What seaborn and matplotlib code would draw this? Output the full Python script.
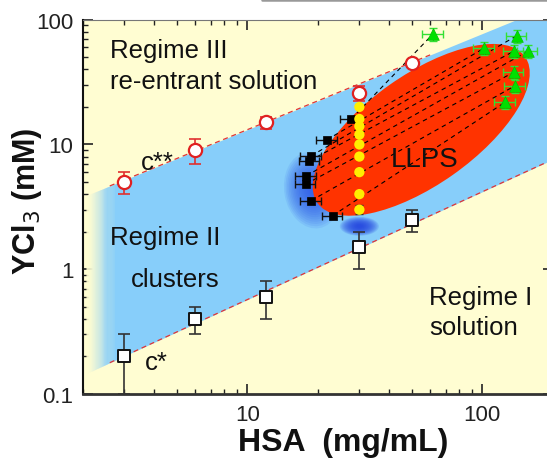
import numpy as np
import pandas as pd
import matplotlib
matplotlib.use("Agg")
import matplotlib.pyplot as plt
import seaborn as sns
from matplotlib.patches import Ellipse
from matplotlib.transforms import IdentityTransform
from matplotlib.lines import Line2D
from matplotlib.ticker import LogLocator, NullFormatter, FuncFormatter

# ---------------- data ----------------
# c** boundary (open red circles)
cc2_x = [3, 6, 12, 30, 50]
cc2_y = [5, 9, 15, 26, 45]
cc2_err = [1.0, 2.0, 1.6, 3.5, 2.0]

# c* boundary (open squares)
cc1_x = [3, 6, 12, 30, 50]
cc1_y = [0.2, 0.4, 0.6, 1.5, 2.5]
cc1_err = [0.1, 0.1, 0.2, 0.5, 0.5]

# LLPS dilute branch (black squares) and dense branch (green triangles)
dilute_x = [27.7, 21.8, 18.7, 18.4, 17.8, 17.7, 18.7, 23.1]
dilute_y = [16.0, 10.9, 8.1, 7.4, 5.6, 4.8, 3.55, 2.69]
dense_x = [61.7, 101.6, 140, 136, 156, 136, 138, 125]
dense_y = [76.8, 59, 74.4, 55.8, 55.8, 37.9, 29.6, 21.8]

# initial compositions (yellow dots)
init_x = [30, 30, 30, 30, 30, 30, 30, 30, 30]
init_y = [20, 16, 14, 12, 10, 8, 6, 4, 3]
init_err = [0, 0, 0, 0, 0, 0, 0, 0, 0.25]

# regime boundary lines (band edges)
upper_edge_x = [2, 200]
upper_edge_y = [3.8, 132]
lower_edge_x = [2, 200]
lower_edge_y = [0.142, 7.6]

# LLPS region (ellipse centre, data units) and blue glows
llps_center = (55, 13.1)
glow_center = (19.0, 4.3)
blob_center = (30, 2.21)

x_ticks = [10, 100]
y_ticks = [0.1, 1, 10, 100]

# ---------------- style ----------------
sns.set_theme(style="ticks")
plt.rcParams["font.family"] = ["Liberation Sans", "DejaVu Sans"]

YELLOW = "#FFFDD2"
BLUE = "#87CEFA"
RED_REGION = "#FF3300"

fig = plt.figure(figsize=(5.47, 4.60), dpi=100)
W, H = 547, 460
ax = fig.add_axes([83 / W, (H - 395) / H, (553 - 83) / W, (395 - 20.7) / H])
ax.set_xscale("log")
ax.set_yscale("log")
ax.set_xlim(2, 200)
ax.set_ylim(0.1, 100)
ax.set_facecolor(YELLOW)


def edge(xs, ex, ey):
    return 10 ** np.interp(np.log10(xs), np.log10(ex), np.log10(ey))


# blue band (regime II)
g0, g1 = 2.06, 2.7
xb = np.geomspace(g1, 200, 50)
ax.fill_between(xb, edge(xb, lower_edge_x, lower_edge_y), edge(xb, upper_edge_x, upper_edge_y),
                color=BLUE, lw=0, zorder=1)
# fading left end of the band
c_y = np.array(matplotlib.colors.to_rgb(YELLOW))
c_b = np.array(matplotlib.colors.to_rgb(BLUE))
xs = np.geomspace(g0, g1, 31)
for i in range(len(xs) - 1):
    t = (i + 0.5) / (len(xs) - 1)
    t = t * t * (3 - 2 * t)
    col = c_y * (1 - t) + c_b * t
    seg = np.array([xs[i], xs[i + 1] * 1.003])
    ax.fill_between(seg, edge(seg, lower_edge_x, lower_edge_y), edge(seg, upper_edge_x, upper_edge_y),
                    color=col, lw=0, zorder=1)

# red dashed boundary lines
xu = np.geomspace(2.6, 60, 20)
ax.plot(xu, edge(xu, upper_edge_x, upper_edge_y), color="#E03535", lw=0.9, dashes=(4, 3), zorder=2)
xl = np.geomspace(2.6, 200, 20)
ax.plot(xl, edge(xl, lower_edge_x, lower_edge_y), color="#E03535", lw=0.9, dashes=(4, 3), zorder=2)

# blue glow behind the LLPS region
gx, gy = ax.transData.transform(glow_center)
for k in range(16):
    s = 1 - k / 16
    ax.add_patch(Ellipse((gx, gy), 52 * s + 5, 72 * s + 5, angle=10, transform=IdentityTransform(),
                         color="#2A55E8", alpha=0.10, lw=0, zorder=2.2))

# LLPS ellipse
ex_, ey_ = ax.transData.transform(llps_center)
ax.add_patch(Ellipse((ex_, ey_), 254, 110, angle=35.2, transform=IdentityTransform(),
                     color=RED_REGION, lw=0, zorder=2.5))

# small blue blob below LLPS
bx, by = ax.transData.transform(blob_center)
for k in range(14):
    s = 1 - k / 14
    ax.add_patch(Ellipse((bx, by), 36 * s + 3, 17 * s + 2, transform=IdentityTransform(),
                         color="#2040E0", alpha=0.14, lw=0, zorder=2.6))

# tie lines
for x0, y0, x1, y1 in zip(dilute_x, dilute_y, dense_x, dense_y):
    ax.plot([x0, x1], [y0, y1], color="black", lw=0.8, dashes=(4, 3.5), zorder=3)

# ---------------- markers ----------------
ax.errorbar(cc2_x, cc2_y, yerr=cc2_err, fmt="none", ecolor="#E03030", elinewidth=1.2,
            capsize=4.5, capthick=1.2, zorder=4)
sns.scatterplot(x=cc2_x, y=cc2_y, ax=ax, marker="o", s=90, facecolor="white",
                edgecolor="#E02020", linewidth=1.6, zorder=5)

ax.errorbar(cc1_x, cc1_y, yerr=cc1_err, fmt="none", ecolor="#333333", elinewidth=1.2,
            capsize=4.5, capthick=1.2, zorder=4)
sns.scatterplot(x=cc1_x, y=cc1_y, ax=ax, marker="s", s=70, facecolor="white",
                edgecolor="#111111", linewidth=1.4, zorder=5)

dil_xerr = [0.1 * v for v in dilute_x]
ax.errorbar(dilute_x, dilute_y, xerr=dil_xerr, fmt="none", ecolor="#111111", elinewidth=1.0,
            capsize=3, capthick=1.0, zorder=4)
sns.scatterplot(x=dilute_x, y=dilute_y, ax=ax, marker="s", s=40, color="black",
                edgecolor="black", linewidth=0.5, zorder=5)

init_df = pd.DataFrame({"x": init_x, "y": init_y, "e": init_err})
e_df = init_df[init_df.e > 0]
ax.errorbar(e_df.x, e_df.y, yerr=e_df.e, fmt="none", ecolor="#333333", elinewidth=1.0,
            capsize=3, capthick=1.0, zorder=4)
sns.scatterplot(data=init_df, x="x", y="y", ax=ax, marker="o", s=55, color="#FFEE00",
                edgecolor="none", linewidth=0, zorder=5)

den_xerr = [0.1 * v for v in dense_x]
den_yerr = [0.12 * v for v in dense_y]
ax.errorbar(dense_x, dense_y, xerr=den_xerr, yerr=den_yerr, fmt="none", ecolor="#33E033",
            elinewidth=1.0, capsize=3, capthick=1.0, zorder=4)
sns.scatterplot(x=dense_x, y=dense_y, ax=ax, marker="^", s=70, color="#00E000",
                edgecolor="#00C000", linewidth=0.5, zorder=5)

# ---------------- text ----------------
fs = 18.5
txt = dict(transform=ax.transAxes, fontsize=fs, color="#111111", ha="left", va="baseline", zorder=6)
ax.text(0.0574, 0.8995, "Regime III", **txt)
ax.text(0.0574, 0.8167, "re-entrant solution", **txt)
ax.text(0.1234, 0.6012, "c**", **txt)
ax.text(0.6553, 0.6086, "LLPS", **{**txt, "fontsize": 20})
ax.text(0.0574, 0.4007, "Regime II", **txt)
ax.text(0.1021, 0.2877, "clusters", **txt)
ax.text(0.7362, 0.2404, "Regime I", **txt)
ax.text(0.7362, 0.1603, "solution", **txt)
ax.text(0.1319, 0.0668, "c*", **txt)

ax.set_xlabel("HSA  (mg/mL)", fontsize=23, fontweight="bold", color="#111111")
ax.set_ylabel("YCl$_3$ (mM)", fontsize=22, fontweight="bold", color="#111111")
ax.xaxis.set_label_coords(0.553, -0.088)
ax.yaxis.set_label_coords(-0.083, 0.5164)

# ---------------- axes / ticks ----------------
fmt = FuncFormatter(lambda v, _: f"{v:g}")
ax.set_xticks(x_ticks)
ax.set_yticks(y_ticks)
ax.xaxis.set_major_formatter(fmt)
ax.yaxis.set_major_formatter(fmt)
ax.xaxis.set_minor_locator(LogLocator(base=10, subs=np.arange(2, 10)))
ax.yaxis.set_minor_locator(LogLocator(base=10, subs=np.arange(2, 10)))
ax.xaxis.set_minor_formatter(NullFormatter())
ax.yaxis.set_minor_formatter(NullFormatter())
ax.tick_params(which="both", direction="in", top=True, right=True, color="#222222")
ax.tick_params(which="major", length=7, width=1.2, labelsize=16, labelcolor="#222222", pad=7)
ax.tick_params(which="minor", length=3.5, width=1.0)

ax.spines["left"].set_color("#111111")
ax.spines["left"].set_linewidth(1.5)
ax.spines["bottom"].set_color("#333333")
ax.spines["bottom"].set_linewidth(2)
ax.spines["top"].set_color("#777777")
ax.spines["top"].set_linewidth(0.8)
ax.spines["right"].set_color("#111111")

# screenshot edge artefact at the very top
fig.add_artist(Line2D([262 / W, 1.0], [1 - 1.2 / H, 1 - 1.2 / H], transform=fig.transFigure,
                      color="#999999", lw=1.8))

fig.savefig("out.png", dpi=100, facecolor="white")
